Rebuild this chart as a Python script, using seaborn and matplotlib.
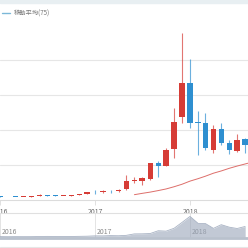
import matplotlib
matplotlib.use("Agg")
import matplotlib.pyplot as plt
import matplotlib.dates as mdates
import seaborn as sns
import pandas as pd
import numpy as np

# ---- data (monthly candles, JPY) ----
months = pd.date_range("2016-01-01", "2018-08-01", freq="MS")
opens = [52000, 44000, 49000, 46500, 48000, 58000, 69000, 64000, 59000, 61500, 73000, 84000,
         112000, 110000, 134000, 122000, 153000, 270000, 276000, 300000, 524000, 490000, 724000, 1186000,
         1676000, 1115000, 1104000, 714000, 1010000, 810000, 704000, 867000]
highs = [56000, 50000, 49500, 50000, 60000, 82000, 73000, 66000, 62000, 74000, 84000, 114000,
         140000, 138000, 148000, 152000, 357000, 333000, 330000, 530000, 560000, 740000, 1310000, 2386000,
         2020000, 1270000, 1247000, 1070000, 1096000, 857000, 943000, 880000]
lows = [42000, 42000, 45000, 45500, 47000, 57000, 60000, 54000, 58000, 61000, 71000, 83000,
        82000, 105000, 104000, 118000, 150000, 243000, 214000, 290000, 324000, 480000, 606000, 1105000,
        1030000, 650000, 714000, 676000, 786000, 652000, 690000, 667000]
closes = [44000, 49000, 46500, 48000, 58000, 69000, 64000, 59000, 61500, 73000, 84000, 112000,
          110000, 134000, 122000, 150000, 276000, 280000, 314000, 524000, 490000, 720000, 1118000, 1676000,
          1100000, 1100000, 739000, 1014000, 810000, 714000, 857000, 786000]

ma_months = pd.date_range("2017-06-01", "2018-09-01", freq="MS")
ma_values = [76000, 95000, 113000, 135000, 158000, 190000, 225000, 270000,
             305000, 340000, 383000, 415000, 453000, 485000, 515000, 545000]

legend_label = "移動平均(75)"
year_ticks = pd.to_datetime(["2016-01-01", "2017-01-01", "2018-01-01"])
year_labels = ["2016", "2017", "2018"]

df = pd.DataFrame({"date": months, "open": opens, "high": highs, "low": lows, "close": closes})
ma_df = pd.DataFrame({"date": ma_months, "ma": ma_values})

# ---- style ----
sns.set_theme(style="white")
plt.rcParams["font.family"] = ["Noto Sans CJK JP", "DejaVu Sans"]

W = 248
fig = plt.figure(figsize=(2.48, 2.48), dpi=100)

x0 = mdates.date2num(pd.Timestamp("2017-01-01"))
ppd = 95 / 365.0
xlim = (x0 - 95 / ppd, x0 + (W - 95) / ppd)

RED = "#d63c36"
BLUE = "#2e8fd0"

# main axes: y=200px -> 0, y=25px -> 2.5M
ax = fig.add_axes([0, (W - 200) / W, 1, 175 / W])
ax.set_xlim(*xlim)
ax.set_ylim(0, 2500000)
ax.set_yticks([500000, 1000000, 1500000, 2000000])
ax.yaxis.grid(True, color="#e6e6e6", linewidth=0.8)
ax.set_axisbelow(True)
for s in ["top", "right", "left"]:
    ax.spines[s].set_visible(False)
ax.spines["bottom"].set_color("#dcdcdc")
ax.spines["bottom"].set_linewidth(0.8)
ax.tick_params(axis="y", left=False, labelleft=False)
ax.set_xticks(year_ticks)
ax.set_xticklabels(year_labels)
ax.tick_params(axis="x", bottom=True, length=3.5, width=0.6, color="#dcdcdc",
               labelsize=5, labelcolor="#666666", pad=2)

up = df["close"] >= df["open"]
colors = np.where(up, RED, BLUE)
ax.vlines(df["date"], df["low"], df["high"], colors=colors, linewidth=0.8, alpha=0.7, zorder=2)
body_bottom = np.minimum(df["open"], df["close"])
body_h = np.maximum(np.abs(df["close"] - df["open"]), 6000)
ax.bar(df["date"], body_h, bottom=body_bottom, width=21, color=colors, linewidth=0, zorder=3)

sns.lineplot(data=ma_df, x="date", y="ma", ax=ax, color="#dd6e6a", linewidth=0.7, legend=False, zorder=4)
ax.set_xlabel("")
ax.set_ylabel("")

# slider axes: y 213..238 px
sax = fig.add_axes([0, (W - 238) / W, 1, 25 / W])
sax.set_xlim(*xlim)
sax.set_ylim(-60000, 1950000)
for s in ["left", "right"]:
    sax.spines[s].set_visible(False)
sax.spines["top"].set_color("#e0e0e0")
sax.spines["top"].set_linewidth(0.8)
sax.spines["bottom"].set_color("#b9c1cd")
sax.spines["bottom"].set_linewidth(2.0)
sax.set_xticks([])
sax.set_yticks([])
for d in year_ticks:
    sax.axvline(d, color="#e4e4e4", linewidth=0.7, zorder=0)
for d, lab in zip(year_ticks, year_labels):
    sax.text(mdates.date2num(d) + 2 / ppd, 400000, lab, fontsize=5, color="#8a8a8a",
             ha="left", va="center", zorder=1)
sax.fill_between(df["date"], 0, df["open"], color="#9aa6ba", alpha=0.6, linewidth=0, zorder=2)
sns.lineplot(data=df, x="date", y="open", ax=sax, color="#a9b3c4", linewidth=0.6, legend=False, zorder=3)
sax.set_xlabel("")
sax.set_ylabel("")

# top band, legend and bottom line
fig.patches.append(plt.Rectangle((0, 1 - 2.7 / W), 1, 2.7 / W, transform=fig.transFigure,
                                 color="#e8eff2", zorder=0))
fig.lines.append(plt.Line2D([2 / W, 10 / W], [1 - 13.3 / W] * 2, transform=fig.transFigure,
                            color="#7bb8d8", linewidth=1.0))
fig.text(14 / W, 1 - 13.3 / W, legend_label, fontsize=4.5, color="#777777", va="center", ha="left")
fig.lines.append(plt.Line2D([0, 1], [1 - 247.3 / W] * 2, transform=fig.transFigure,
                            color="#e6e6e6", linewidth=0.8))

fig.savefig("out.png", dpi=100)
